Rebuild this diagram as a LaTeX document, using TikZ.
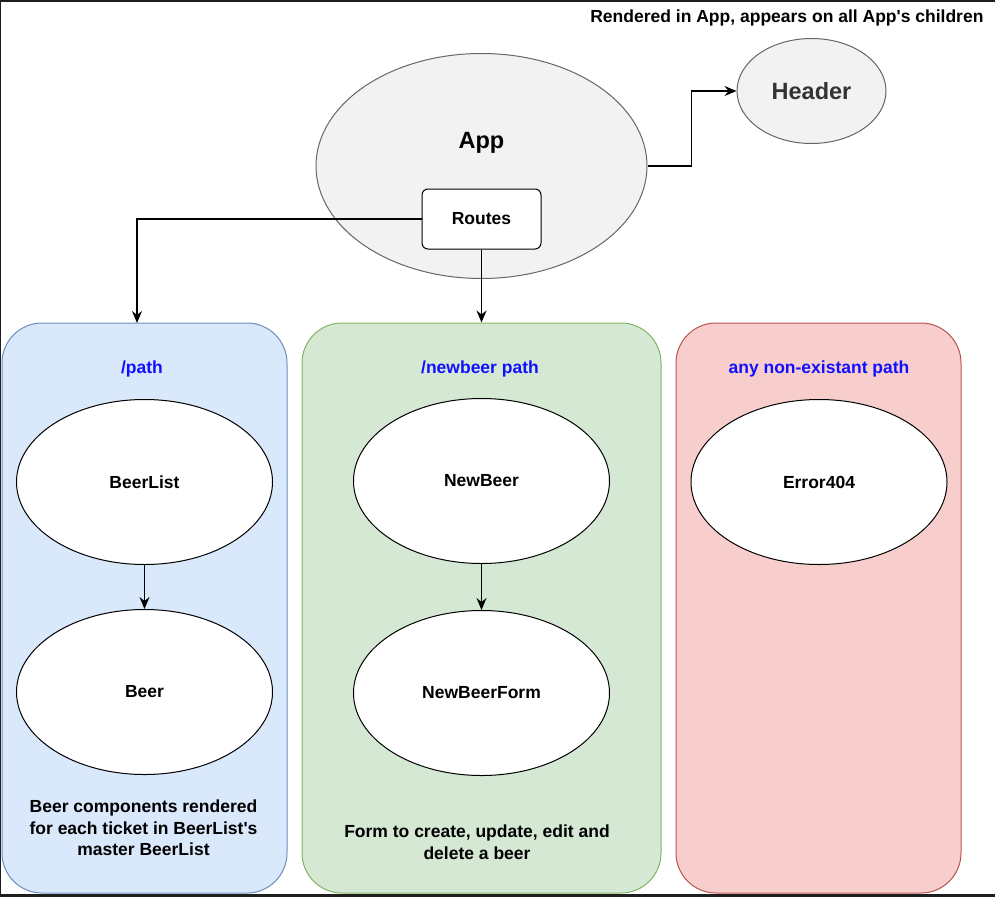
\documentclass[tikz,border=0pt]{standalone}
\usepackage{fontspec}
\setmainfont{Liberation Sans}
\usetikzlibrary{shapes.geometric,arrows.meta,calc}
\definecolor{bluefill}{HTML}{DAE8FC}
\definecolor{bluedraw}{HTML}{6C8EBF}
\definecolor{greenfill}{HTML}{D5E8D4}
\definecolor{greendraw}{HTML}{82B366}
\definecolor{redfill}{HTML}{F8CECC}
\definecolor{reddraw}{HTML}{B85450}
\definecolor{grayfill}{HTML}{F2F2F2}
\definecolor{graydraw}{HTML}{666666}
\definecolor{headtext}{HTML}{333333}
\definecolor{labelblue}{HTML}{1010FF}
\definecolor{framecol}{HTML}{1E1E1E}
\tikzset{
  every node/.style={font=\fontsize{17.5}{21.5}\selectfont\bfseries},
  colbox/.style={draw, rounded corners=40pt, line width=1pt, minimum width=#1, minimum height=570pt, inner sep=0pt},
  wellipse/.style={ellipse, draw=black, fill=white, line width=1pt, minimum width=256pt, minimum height=165pt, inner sep=0pt},
  gellipse/.style={ellipse, draw=graydraw, fill=grayfill, line width=1pt, inner sep=0pt},
  arr/.style={draw=black, line width=1.1pt, -{Stealth[length=12pt,width=10pt,inset=4pt]}},
  pathlabel/.style={text=labelblue},
  note/.style={align=center},
}
\begin{document}
\begin{tikzpicture}[x=1pt,y=-1pt]
\useasboundingbox (0,0) rectangle (995,897);
% frame
\fill[framecol] (0,0) rectangle (995,1.6);
\fill[framecol] (0,0) rectangle (1.3,897);
\fill[framecol] (0,894) rectangle (995,897);

% column boxes
\node[colbox=285pt, draw=bluedraw, fill=bluefill] (bluebox) at (144.5,608) {};
\node[colbox=359pt, draw=greendraw, fill=greenfill] (greenbox) at (481.5,608) {};
\node[colbox=285pt, draw=reddraw, fill=redfill] (redbox) at (818.5,608) {};

% top text
\node[anchor=east] (toptext) at (987,18) {Rendered in App, appears on all App\textquotesingle s children};

% App and Header
\node[gellipse, minimum width=331pt, minimum height=225pt] (app) at (481.5,166) {};
\node[font=\fontsize{23.5}{26}\selectfont\bfseries] (applabel) at (481.5,143) {App};
\node[gellipse, minimum width=149pt, minimum height=105pt, text=headtext, font=\fontsize{23.5}{26}\selectfont\bfseries] (header) at (811.5,91) {Header};
\node[draw=black, fill=white, line width=1pt, rounded corners=6pt, minimum width=119pt, minimum height=60pt, inner sep=0pt] (routes) at (481.5,219) {Routes};

% labels
\node[pathlabel] (lpath) at (142,369) {/path};
\node[pathlabel] (lnew) at (480,369) {/newbeer path};
\node[pathlabel] (lany) at (819,369) {any non-existant path};

% ellipses
\node[wellipse] (beerlist) at (144.5,482) {BeerList};
\node[wellipse] (beer) at (144.5,692) {Beer};
\node[wellipse] (newbeer) at (481.5,481) {NewBeer};
\node[wellipse] (newbeerform) at (481.5,693) {NewBeerForm};
\node[wellipse] (error) at (819,482) {Error404};

% notes
\node[note] (beernote) at (143.5,828) {Beer components rendered\\for each ticket in BeerList\textquotesingle s\\master BeerList};
\node[note] (formnote) at (477,842) {Form to create, update, edit and\\delete a beer};

% connectors
\coordinate (bluetop) at (137,323);
\draw[arr] (routes.west) -| (bluetop);
\draw[arr] (routes.south) -- (routes.south |- greenbox.north);
\draw[arr] (app.east) -- ++(44,0) |- (header.west);
\draw[arr] (beerlist) -- (beer);
\draw[arr] (newbeer) -- (newbeerform);
\end{tikzpicture}
\end{document}
